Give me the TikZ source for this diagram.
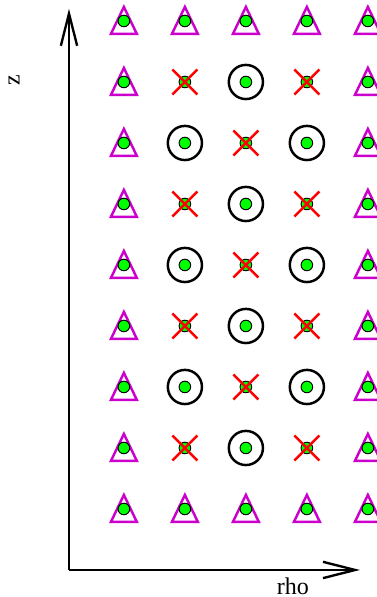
\documentclass[tikz,border=0pt]{standalone}
\usepackage{fontspec}
\setmainfont{Liberation Serif}
\usetikzlibrary{arrows.meta}
\usepackage{xcolor}

\definecolor{bndmagenta}{RGB}{204,0,204}
\definecolor{ptgreen}{RGB}{0,255,0}

\tikzset{
    axis/.style={line width=1.1pt, -{Straight Barb[length=15pt,width=7.6pt,line width=1.1pt]}},
    gridpt/.style={circle, draw=black, line width=0.45pt, fill=ptgreen, inner sep=0pt, minimum size=0.19cm},
    ringpt/.style={circle, draw=black, line width=1.15pt, inner sep=0pt, minimum size=0.56cm},
    crosspt/.style={red, line width=1.15pt},
    bndpt/.style={bndmagenta, line width=1.15pt},
    lbl/.style={font=\fontsize{11.2}{13}\selectfont}
}

\begin{document}
\begin{tikzpicture}
        \useasboundingbox (-1.131,-0.443) rectangle (5.033,9.344);

        % Axes
        \coordinate (origin) at (0,0);
        \coordinate (ztip) at (0,9.2);
        \coordinate (rhotip) at (4.77,0);
        \draw[axis] (origin) -- (ztip);
        \draw[axis] (origin) -- (rhotip);
        \node[lbl, rotate=90] (zlabel) at (-0.9,8.03) {z};
        \node[lbl] (rholabel) at (3.67,-0.26) {rho};

        % Mesh points: boundary (triangles), interior checkerboard (crosses / rings)
        \foreach \i in {0,...,4}{
            \foreach \j in {0,...,8}{
                \pgfmathtruncatemacro\edge{(\i==0)||(\i==4)||(\j==0)||(\j==8)}
                \pgfmathtruncatemacro\odd{mod(\i+\j,2)}
                \ifnum\edge=1
                    \draw[bndpt] (0.9+\i,1+\j) ++(0,0.23) -- ++(-0.213,-0.443) -- ++(0.426,0) -- cycle;
                    \node[gridpt] (n-\i-\j) at (0.9+\i,1+\j) {};
                \else
                    \node[gridpt] (n-\i-\j) at (0.9+\i,1+\j) {};
                    \ifnum\odd=0
                        \draw[crosspt] (n-\i-\j) ++(-0.205,-0.205) -- ++(0.41,0.41);
                        \draw[crosspt] (n-\i-\j) ++(-0.205,0.205) -- ++(0.41,-0.41);
                    \else
                        \node[ringpt] (r-\i-\j) at (n-\i-\j) {};
                    \fi
                \fi
            }
        }
\end{tikzpicture}
\end{document}
